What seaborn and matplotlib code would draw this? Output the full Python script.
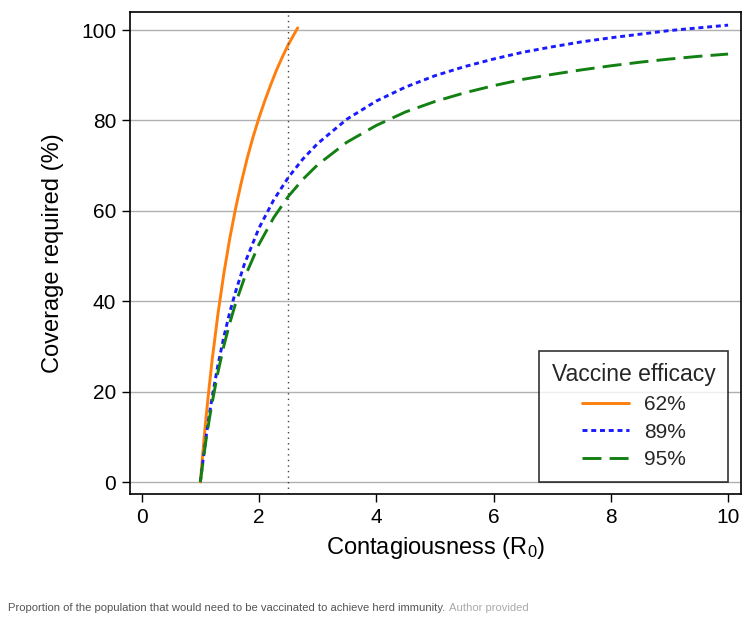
"""Herd immunity coverage required vs R0 for three vaccine efficacies."""
import matplotlib
matplotlib.use("Agg")
import matplotlib.pyplot as plt
import pandas as pd
import seaborn as sns

# values
r0_62 = [1.0, 1.05, 1.1, 1.15, 1.2, 1.3, 1.4, 1.5, 1.6, 1.7, 1.8, 1.9, 2.0, 2.1, 2.2, 2.3, 2.4, 2.5, 2.66]
cov_62 = [0.0, 7.7, 14.7, 21.0, 26.9, 37.2, 46.1, 53.8, 60.5, 66.4, 71.7, 76.4, 80.6, 84.4, 87.9, 91.2, 94.1, 96.8, 100.5]

r0_long = [1.0, 1.05, 1.1, 1.15, 1.2, 1.3, 1.4, 1.5, 1.6, 1.75, 2.0, 2.25, 2.5, 2.75, 3.0, 3.5, 4.0,
           4.5, 5.0, 5.5, 6.0, 6.5, 7.0, 7.5, 8.0, 8.5, 9.0, 9.5, 10.0]
cov_89 = [0.0, 5.3, 10.2, 14.7, 18.7, 25.9, 32.1, 37.5, 42.1, 48.2, 56.2, 62.4, 67.4, 71.5, 74.9, 80.3,
          84.3, 87.4, 89.9, 91.9, 93.6, 95.1, 96.3, 97.4, 98.3, 99.1, 99.9, 100.5, 101.1]
cov_95 = [0.0, 5.0, 9.6, 13.7, 17.5, 24.3, 30.1, 35.1, 39.5, 45.1, 52.6, 58.5, 63.2, 67.0, 70.2, 75.2,
          78.9, 81.9, 84.2, 86.1, 87.7, 89.1, 90.2, 91.2, 92.1, 92.9, 93.6, 94.2, 94.7]

efficacy_labels = ["62%", "89%", "95%"]
x_ticks = [0, 2, 4, 6, 8, 10]
y_ticks = [0, 20, 40, 60, 80, 100]

df = pd.concat([
    pd.DataFrame({"r0": r0_62, "coverage": cov_62, "efficacy": efficacy_labels[0]}),
    pd.DataFrame({"r0": r0_long, "coverage": cov_89, "efficacy": efficacy_labels[1]}),
    pd.DataFrame({"r0": r0_long, "coverage": cov_95, "efficacy": efficacy_labels[2]}),
])

sns.set_theme(style="ticks")
plt.rcParams["font.family"] = ["Liberation Sans", "DejaVu Sans"]
plt.rcParams["mathtext.fontset"] = "custom"
plt.rcParams["mathtext.rm"] = "Liberation Sans"
plt.rcParams["mathtext.it"] = "Liberation Sans"

fig = plt.figure(figsize=(7.48, 6.2), dpi=100)
ax = fig.add_axes([0.1738, 0.2032, 0.8168, 0.7774])

palette = {"62%": "#ff7f0e", "89%": "#1a1aff", "95%": "#138013"}
dashes = {"62%": "", "89%": (1.7, 1.3), "95%": (6.5, 2.8)}
sns.lineplot(data=df, x="r0", y="coverage", hue="efficacy", style="efficacy",
             palette=palette, dashes=dashes, linewidth=2.1, sort=False,
             estimator=None, ax=ax)

ax.axvline(2.5, color="#444444", linestyle=(0, (1, 3)), linewidth=1)

ax.set_xlim(-0.2, 10.22)
ax.set_ylim(-2.65, 104)
ax.set_xticks(x_ticks)
ax.set_yticks(y_ticks)
ax.yaxis.grid(True, color="#b0b0b0", linewidth=1)
ax.xaxis.grid(False)
for s in ax.spines.values():
    s.set_color("black")
    s.set_linewidth(1.2)
ax.tick_params(axis="both", direction="out", length=6, width=1, color="black",
               labelsize=15, labelcolor="black", pad=4)
ax.set_xlabel(r"Contagiousness (R$_{\mathrm{0}}$)", fontsize=17, labelpad=6, color="black")
ax.set_ylabel("Coverage required (%)", fontsize=17, labelpad=12, color="black")

leg = ax.legend(title="Vaccine efficacy", loc="lower right", bbox_to_anchor=(0.979, 0.025),
                borderaxespad=0, fontsize=15, title_fontsize=16.5, frameon=True,
                fancybox=False, handlelength=2.3, handletextpad=0.7, borderpad=0.6,
                labelspacing=0.42)
leg.get_frame().set_edgecolor("black")
leg.get_frame().set_linewidth(1.2)
leg._legend_box.align = "center"

cap = fig.text(0.011, 0.015, "Proportion of the population that would need to be vaccinated to achieve herd immunity. ",
               fontsize=8.1, color="#555555", ha="left", va="baseline")
fig.canvas.draw()
bb = cap.get_window_extent()
fig.text(bb.x1 / fig.bbox.width, 0.015, "Author provided", fontsize=8.1, color="#aaaaaa",
         ha="left", va="baseline")

fig.savefig("out.png", dpi=100)
plt.close(fig)
